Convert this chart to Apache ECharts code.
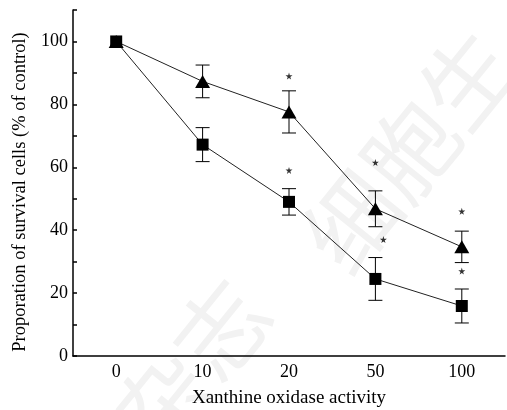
<!DOCTYPE html>
<html>
<head>
<meta charset="utf-8">
<script src="https://cdn.jsdelivr.net/npm/echarts@6/dist/echarts.min.js"></script>
<style>
  html, body { margin: 0; padding: 0; background: #fff; }
  #chart { width: 507px; height: 410px; }
</style>
</head>
<body>
<div id="chart"></div>
<script>
// 横坐标：黄嘌呤氧化酶活性
const categories = ["0", "10", "20", "50", "100"];
// 三角形系列
const triValues = [100, 87.3, 77.6, 46.8, 34.7];
const triErrors = [0, 5.2, 6.7, 5.7, 5.0];
const triStars = [null, null, 89, 61.5, 46];
// 方块系列
const sqValues = [100, 67.2, 49.0, 24.5, 15.9];
const sqErrors = [0, 5.4, 4.2, 6.8, 5.4];
const sqStars = [null, null, 59, 37, 27];

const font = "'Liberation Serif', 'Times New Roman', serif";
const starPath = "path://M50,0 L61,35 L98,35 L68,57 L79,91 L50,70 L21,91 L32,57 L2,35 L39,35 Z";

function errorSeries(values, errors) {
    return {
        type: "custom",
        z: 1,
        data: values.map((v, i) => [i, v, errors[i]]),
        renderItem: function (params, api) {
            const i = api.value(0);
            const v = api.value(1);
            const e = api.value(2);
            if (!e) return null;
            const top = api.coord([i, v + e]);
            const bot = api.coord([i, v - e]);
            const hw = 7;
            const style = { stroke: "#000", lineWidth: 1 };
            return {
                type: "group",
                children: [
                    { type: "line", shape: { x1: top[0], y1: top[1], x2: bot[0], y2: bot[1] }, style: style },
                    { type: "line", shape: { x1: top[0] - hw, y1: top[1], x2: top[0] + hw, y2: top[1] }, style: style },
                    { type: "line", shape: { x1: bot[0] - hw, y1: bot[1], x2: bot[0] + hw, y2: bot[1] }, style: style }
                ]
            };
        }
    };
}

function starSeries(stars, offsets) {
    return {
        type: "scatter",
        z: 3,
        symbol: starPath,
        symbolSize: 7,
        itemStyle: { color: "#000" },
        data: stars.map((v, i) => ({
            value: v,
            symbolOffset: [offsets[i] || 0, 0]
        }))
    };
}

const chart = echarts.init(document.getElementById("chart"));
chart.setOption({
    animation: false,
    // 背景水印
    graphic: [
        {
            type: "text", x: 192, y: 365, rotation: 0.89, z: -10, silent: true,
            style: { text: "杂志", fontSize: 92, fontFamily: "Noto Sans CJK SC", fill: "#f2f2f2", align: "center", verticalAlign: "middle" }
        },
        {
            type: "text", x: 410, y: 150, rotation: 0.89, z: -10, silent: true,
            style: { text: "细胞生", fontSize: 92, fontFamily: "Noto Sans CJK SC", fill: "#f2f2f2", align: "center", verticalAlign: "middle" }
        }
    ],
    grid: { left: 73, right: 2, top: 10, bottom: 54, outerBoundsMode: "none" },
    xAxis: [
        {
            type: "category",
            data: categories,
            boundaryGap: true,
            position: "bottom",
            axisLine: { lineStyle: { color: "#000", width: 1.5 } },
            axisTick: { inside: true, alignWithLabel: true, length: 5, lineStyle: { color: "#000", width: 1.5 } },
            axisLabel: { color: "#000", fontFamily: font, fontSize: 18, margin: 7 },
            name: "Xanthine oxidase activity",
            nameLocation: "middle",
            nameGap: 33,
            nameTextStyle: { color: "#000", fontFamily: font, fontSize: 19 },
            splitLine: { show: false }
        },
        {
            type: "category",
            data: categories,
            boundaryGap: true,
            position: "bottom",
            axisLine: { show: false },
            axisTick: { inside: true, alignWithLabel: false, length: 3, lineStyle: { color: "#000", width: 1.5 } },
            axisLabel: { show: false },
            splitLine: { show: false }
        }
    ],
    yAxis: {
        type: "value",
        min: 0,
        max: 110,
        interval: 10,
        axisLine: { show: true, lineStyle: { color: "#000", width: 1.5 } },
        axisTick: { show: true, inside: true, length: 4, lineStyle: { color: "#000", width: 1.5 } },
        axisLabel: {
            color: "#000",
            fontFamily: font,
            fontSize: 18,
            margin: 5,
            formatter: function (v) {
                return v % 20 === 0 && v <= 100 ? String(v) : "";
            }
        },
        splitLine: { show: false },
        name: "Proporation of survival cells (% of control)",
        nameLocation: "middle",
        nameGap: 43,
        nameTextStyle: { color: "#000", fontFamily: font, fontSize: 18.5, padding: [0, 18, 0, 0] }
    },
    series: [
        errorSeries(triValues, triErrors),
        errorSeries(sqValues, sqErrors),
        {
            name: "tri",
            type: "line",
            z: 2,
            data: triValues,
            symbol: "triangle",
            symbolSize: [15, 13],
            itemStyle: { color: "#000" },
            lineStyle: { color: "#222", width: 1 }
        },
        {
            name: "sq",
            type: "line",
            z: 2,
            data: sqValues,
            symbol: "rect",
            symbolSize: 12,
            itemStyle: { color: "#000" },
            lineStyle: { color: "#222", width: 1 }
        },
        starSeries(triStars, []),
        starSeries(sqStars, [0, 0, 0, 8, 0])
    ]
});
</script>
</body>
</html>
